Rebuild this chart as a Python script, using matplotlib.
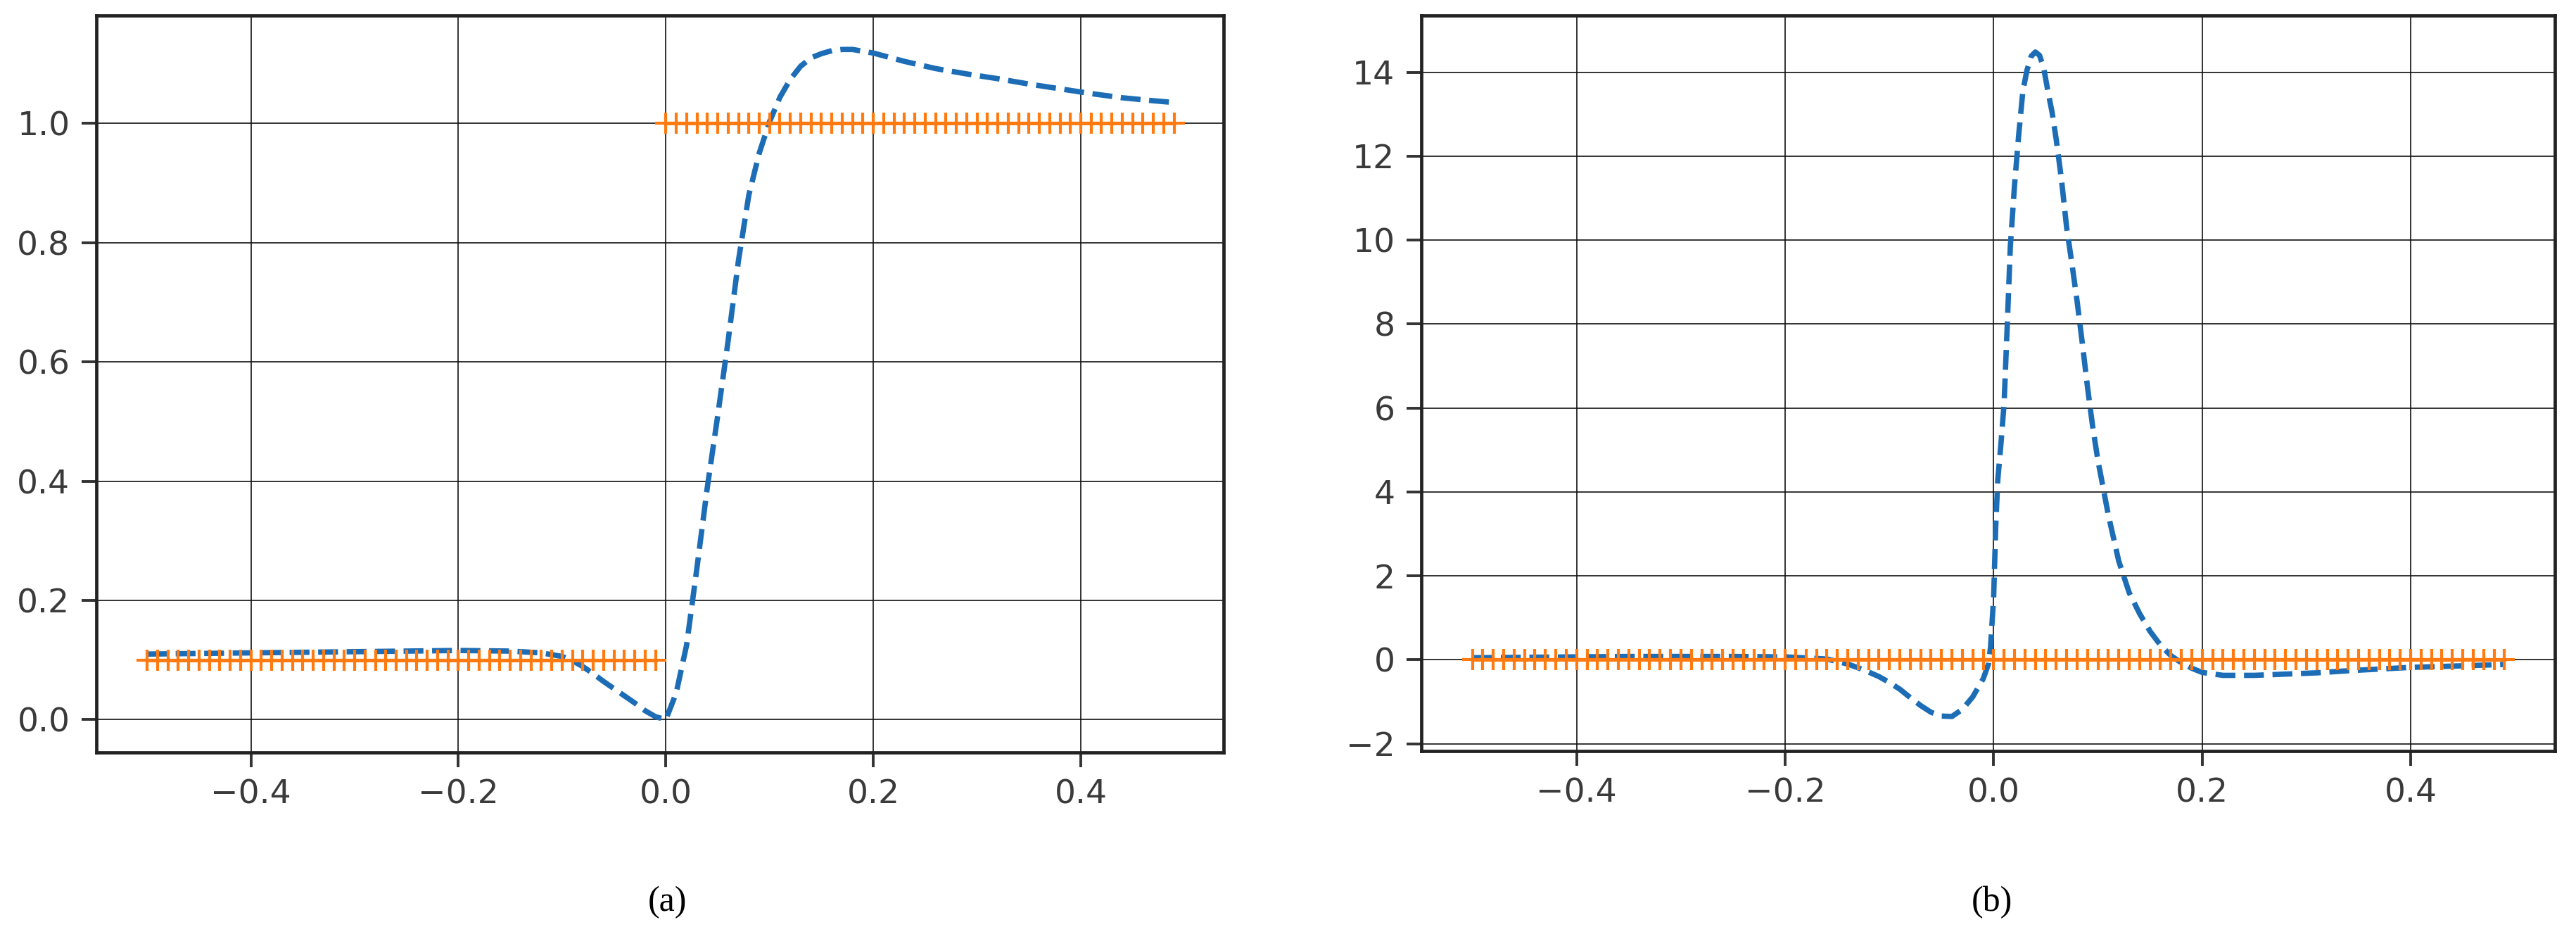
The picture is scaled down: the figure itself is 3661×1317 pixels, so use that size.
import numpy as np
from matplotlib import pyplot as plt
from matplotlib import patheffects

# panel (a): response (blue) and step reference (orange)
a_x = [-0.50, -0.45, -0.40, -0.35, -0.30, -0.25, -0.20, -0.15, -0.12, -0.10,
       -0.09, -0.08, -0.07, -0.06, -0.05, -0.04, -0.03, -0.02, -0.01, 0.00,
       0.01, 0.02, 0.03, 0.04, 0.05, 0.06, 0.07, 0.08, 0.09, 0.10,
       0.11, 0.12, 0.13, 0.14, 0.15, 0.16, 0.17, 0.18,
       0.20, 0.23, 0.26, 0.29, 0.32, 0.35, 0.38, 0.41, 0.44, 0.47, 0.49]
a_y = [0.110, 0.111, 0.112, 0.113, 0.114, 0.115, 0.116, 0.115, 0.112, 0.106,
       0.099, 0.089, 0.077, 0.064, 0.052, 0.040, 0.028, 0.015, 0.005, 0.000,
       0.045, 0.125, 0.255, 0.390, 0.510, 0.635, 0.770, 0.880, 0.950, 1.003,
       1.044, 1.074, 1.096, 1.110, 1.117, 1.122, 1.124, 1.124,
       1.118, 1.104, 1.092, 1.083, 1.075, 1.066, 1.058, 1.050, 1.043, 1.038, 1.035]
a_ref_low = 0.1
a_ref_high = 1.0

# panel (b): response (blue) and zero reference (orange)
b_x = [-0.50, -0.45, -0.40, -0.35, -0.30, -0.25, -0.20, -0.16, -0.14, -0.13,
       -0.12, -0.11, -0.10, -0.09, -0.08, -0.07, -0.06, -0.05, -0.04, -0.03,
       -0.02, -0.01, -0.005, -0.003, 0.000, 0.002, 0.004, 0.007, 0.010, 0.013,
       0.016, 0.020, 0.024, 0.028, 0.032, 0.036, 0.040, 0.044, 0.048, 0.052,
       0.056, 0.060, 0.065, 0.070, 0.075, 0.080, 0.085, 0.090, 0.095, 0.100,
       0.110, 0.120, 0.130, 0.140, 0.150, 0.160, 0.170, 0.180, 0.190, 0.200,
       0.220, 0.250, 0.280, 0.310, 0.340, 0.370, 0.400, 0.440, 0.490]
b_y = [0.05, 0.06, 0.07, 0.08, 0.08, 0.08, 0.07, 0.02, -0.10, -0.19,
       -0.29, -0.40, -0.54, -0.70, -0.90, -1.09, -1.25, -1.34, -1.35, -1.18,
       -0.88, -0.45, -0.10, 0.30, 1.50, 3.20, 4.30, 5.15, 6.10, 7.95,
       9.85, 11.30, 12.50, 13.55, 14.05, 14.38, 14.48, 14.40, 14.10, 13.55,
       13.05, 12.40, 11.45, 10.30, 9.45, 8.55, 7.55, 6.50, 5.55, 4.75,
       3.45, 2.35, 1.60, 1.10, 0.68, 0.35, 0.10, -0.07, -0.20, -0.30,
       -0.37, -0.37, -0.34, -0.31, -0.26, -0.22, -0.18, -0.15, -0.11]
b_ref = 0.0

# sample grid of the reference signals
ref_step = 0.01
ref_x_low = np.round(np.arange(-0.50, -0.005, ref_step), 2)
ref_x_high = np.round(np.arange(0.00, 0.495, ref_step), 2)
ref_x_all = np.round(np.arange(-0.50, 0.495, ref_step), 2)

x_ticks = [-0.4, -0.2, 0.0, 0.2, 0.4]
a_yticks = [0.0, 0.2, 0.4, 0.6, 0.8, 1.0]
b_yticks = [-2, 0, 2, 4, 6, 8, 10, 12, 14]

blue = '#1c6db6'
orange = '#ff7a10'

fig = plt.figure(figsize=(36.62, 13.17), dpi=100)
ax1 = fig.add_axes([0.0374, 0.1883, 0.4376, 0.795])
ax2 = fig.add_axes([0.5516, 0.1895, 0.4398, 0.7938])

ref_style = dict(color=orange, lw=3.6, marker='+', ms=21, mew=3.0)
blue_style = dict(color=blue, lw=5.5, ls='--')

ax1.plot(a_x, a_y, **blue_style)
ax1.plot(ref_x_low, np.full(len(ref_x_low), a_ref_low), **ref_style)
ax1.plot(ref_x_high, np.full(len(ref_x_high), a_ref_high), **ref_style)
ax1.set_ylim(-0.055, 1.181)
ax1.set_yticks(a_yticks)

ax2.plot(b_x, b_y, **blue_style)
ax2.plot(ref_x_all, np.full(len(ref_x_all), b_ref), **ref_style)
ax2.set_ylim(-2.18, 15.35)
ax2.set_yticks(b_yticks)

shadow = [patheffects.SimplePatchShadow(offset=(2.5, -2.5), alpha=0.35),
          patheffects.Normal()]
for ax in (ax1, ax2):
    ax.set_xlim(-0.549, 0.538)
    ax.set_xticks(x_ticks)
    ax.grid(True, color='#111111', lw=1.2)
    ax.set_axisbelow(True)
    ax.tick_params(length=15, width=2.8, color='#333333', pad=12,
                   labelsize=34, labelcolor='#3a3a3a')
    for sp in ax.spines.values():
        sp.set_linewidth(3.4)
        sp.set_color('#222222')
        sp.set_path_effects(shadow)

fig.text(0.2589, 0.027, '(a)', ha='center', va='center',
         family='Liberation Serif', fontsize=36)
fig.text(0.773, 0.027, '(b)', ha='center', va='center',
         family='Liberation Serif', fontsize=36)

fig.savefig('out.png', dpi=100)
